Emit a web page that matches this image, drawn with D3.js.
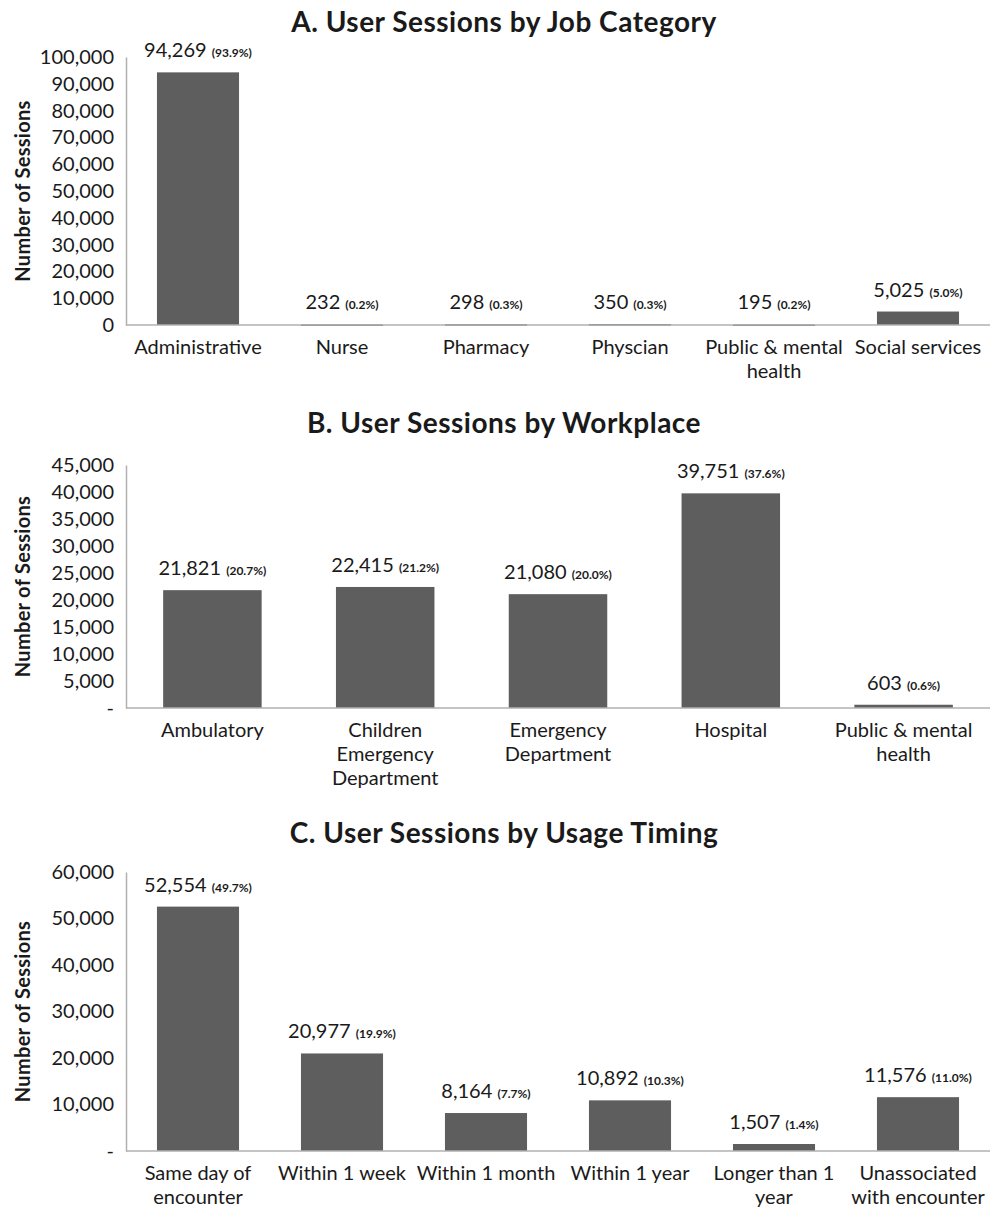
<!DOCTYPE html>
<html>
<head>
<meta charset="utf-8">
<script src="https://cdn.jsdelivr.net/npm/d3@7"></script>
<style>
  body { margin: 0; background: #fff; }
  text { font-family: Lato, "Open Sans", sans-serif; fill: #1a1a1a; }
</style>
</head>
<body>
<div id="chart"></div>
<script>
// A. job category
const jobCategories = ["Administrative", "Nurse", "Pharmacy", "Physcian", "Public & mental\nhealth", "Social services"];
const jobSessions = [94269, 232, 298, 350, 195, 5025];
const jobPercents = ["93.9%", "0.2%", "0.3%", "0.3%", "0.2%", "5.0%"];
const jobTicks = [0, 10000, 20000, 30000, 40000, 50000, 60000, 70000, 80000, 90000, 100000];

// B. workplace
const workCategories = ["Ambulatory", "Children\nEmergency\nDepartment", "Emergency\nDepartment", "Hospital", "Public & mental\nhealth"];
const workSessions = [21821, 22415, 21080, 39751, 603];
const workPercents = ["20.7%", "21.2%", "20.0%", "37.6%", "0.6%"];
const workTicks = [0, 5000, 10000, 15000, 20000, 25000, 30000, 35000, 40000, 45000];

// C. usage timing
const timeCategories = ["Same day of\nencounter", "Within 1 week", "Within 1 month", "Within 1 year", "Longer than 1\nyear", "Unassociated\nwith encounter"];
const timeSessions = [52554, 20977, 8164, 10892, 1507, 11576];
const timePercents = ["49.7%", "19.9%", "7.7%", "10.3%", "1.4%", "11.0%"];
const timeTicks = [0, 10000, 20000, 30000, 40000, 50000, 60000];

const width = 998, height = 1207;
const svg = d3.select("#chart").append("svg").attr("width", width).attr("height", height);

const left = 126, right = 990;
const fmt = d3.format(",");

function drawPanel(opts) {
  const g = svg.append("g");

  const x = d3.scaleBand().domain(opts.categories).range([left, right]).paddingInner(0.43).paddingOuter(0.215);
  const y = d3.scaleLinear().domain([0, d3.max(opts.ticks)]).range([opts.bottom, opts.top]);

  g.append("text")
    .attr("x", 504)
    .attr("y", opts.titleY)
    .attr("text-anchor", "middle")
    .style("font-size", "28px")
    .style("letter-spacing", "0.5px")
    .style("font-weight", "bold")
    .text(opts.title);

  // y axis
  const yAxis = d3.axisLeft(y)
    .tickValues(opts.ticks)
    .tickSize(0)
    .tickPadding(12)
    .tickFormat(function (d) {
      return d === 0 ? opts.zeroLabel : fmt(d);
    });
  const ya = g.append("g").attr("transform", "translate(" + left + ",0)").call(yAxis);
  ya.select(".domain").attr("stroke", "#b0b0b0").attr("stroke-width", 1.5);
  ya.selectAll("text").style("font-size", "20px").style("font-family", "Lato, sans-serif").attr("fill", "#1a1a1a");

  g.append("text")
    .attr("transform", "translate(30," + (opts.top + opts.bottom) / 2 + ") rotate(-90)")
    .attr("text-anchor", "middle")
    .style("font-size", "20px")
    .style("letter-spacing", "0.3px")
    .style("font-weight", "bold")
    .text("Number of Sessions");

  // bars
  g.selectAll(".bar")
    .data(opts.values)
    .enter()
    .append("rect")
    .attr("x", function (d, i) { return x(opts.categories[i]); })
    .attr("width", x.bandwidth())
    .attr("y", function (d) { return y(d); })
    .attr("height", function (d) { return Math.max(opts.bottom - y(d), 1.5); })
    .attr("fill", "#5e5e5e");

  // x axis line
  g.append("line")
    .attr("x1", left).attr("x2", right)
    .attr("y1", opts.bottom).attr("y2", opts.bottom)
    .attr("stroke", "#b0b0b0").attr("stroke-width", 1.5);

  // value labels
  const labels = g.selectAll(".val")
    .data(opts.values)
    .enter()
    .append("text")
    .attr("x", function (d, i) { return x(opts.categories[i]) + x.bandwidth() / 2; })
    .attr("y", function (d) { return Math.min(y(d), opts.bottom - 1.5) - 15; })
    .attr("text-anchor", "middle");
  labels.append("tspan").style("font-size", "20px").text(function (d) { return fmt(d) + " "; });
  labels.append("tspan").style("font-size", "12px").style("font-weight", "bold")
    .text(function (d, i) { return "(" + opts.percents[i] + ")"; });

  // category labels
  const cats = g.selectAll(".cat")
    .data(opts.categories)
    .enter()
    .append("text")
    .attr("text-anchor", "middle")
    .style("font-size", "20px");
  cats.each(function (d) {
    const t = d3.select(this);
    d.split("\n").forEach(function (line, k) {
      t.append("tspan")
        .attr("x", x(d) + x.bandwidth() / 2)
        .attr("y", opts.bottom + 29 + k * 24)
        .text(line);
    });
  });
}

drawPanel({
  title: "A. User Sessions by Job Category", titleY: 32,
  categories: jobCategories, values: jobSessions, percents: jobPercents,
  ticks: jobTicks, zeroLabel: "0", top: 57, bottom: 325
});

drawPanel({
  title: "B. User Sessions by Workplace", titleY: 433,
  categories: workCategories, values: workSessions, percents: workPercents,
  ticks: workTicks, zeroLabel: "-", top: 465, bottom: 708
});

drawPanel({
  title: "C. User Sessions by Usage Timing", titleY: 843,
  categories: timeCategories, values: timeSessions, percents: timePercents,
  ticks: timeTicks, zeroLabel: "-", top: 872, bottom: 1151
});
</script>
</body>
</html>
